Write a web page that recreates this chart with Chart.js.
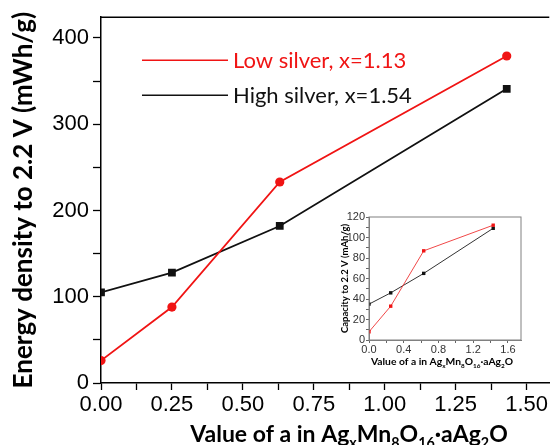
<!DOCTYPE html>
<html>
<head>
<meta charset="utf-8">
<script src="https://cdn.jsdelivr.net/npm/chart.js@4.4.1/dist/chart.umd.min.js"></script>
<style>
  html, body { margin: 0; padding: 0; background: #fff; }
  #wrap { position: relative; width: 550px; height: 445px; }
  #mainChart { position: absolute; left: 0; top: 0; }
  #insetChart { position: absolute; left: 330px; top: 205px; }
</style>
</head>
<body>
<div id="wrap">
  <canvas id="mainChart" width="550" height="445"></canvas>
  <canvas id="insetChart" width="200" height="166"></canvas>
</div>
<script>
// value of a (Ag2O per formula unit)
const aValues = [0, 0.25, 0.63, 1.43];
// main plot: energy density to 2.2 V (mWh/g)
const lowSilverEnergy = [26, 88, 233, 379];
const highSilverEnergy = [105, 128, 182, 341];
// inset: capacity to 2.2 V (mAh/g)
const lowSilverCapacity = [8, 33, 87, 112];
const highSilverCapacity = [35, 46, 65, 109];

const seriesNames = ['Low silver, x=1.13', 'High silver, x=1.54'];
const mainXTicks = [0, 0.25, 0.5, 0.75, 1, 1.25, 1.5];
const mainYTicks = [0, 100, 200, 300, 400];
const insetXTicks = [0, 0.4, 0.8, 1.2, 1.6];
const insetYTicks = [0, 20, 40, 60, 80, 100, 120];
// x title with subscripts: [text, isSubscript]
const xTitleParts = [['Value of a in Ag', 0], ['x', 1], ['Mn', 0], ['8', 1], ['O', 0], ['16', 1], ['·aAg', 0], ['2', 1], ['O', 0]];

const RED = '#f01414';
const BLACK = '#111111';
const SANS = '"Liberation Sans", Arial, sans-serif';
const TITLE = 'Lato, "Open Sans", sans-serif';

function points(ys) {
    return aValues.map((a, i) => ({ x: a, y: ys[i] }));
}

function isOn(list, v) {
    return list.some(t => Math.abs(t - v) < 1e-6);
}

// draws the x axis title with real subscripts
function drawSubTitle(ctx, cx, baseline, size) {
    const big = 'bold ' + size + 'px ' + TITLE;
    const small = 'bold ' + (size * 0.62).toFixed(1) + 'px ' + TITLE;
    let total = 0;
    xTitleParts.forEach(p => {
        ctx.font = p[1] ? small : big;
        total += ctx.measureText(p[0]).width;
    });
    let x = cx - total / 2;
    ctx.save();
    ctx.fillStyle = '#000';
    ctx.textBaseline = 'alphabetic';
    ctx.textAlign = 'left';
    xTitleParts.forEach(p => {
        ctx.font = p[1] ? small : big;
        ctx.fillText(p[0], x, baseline + (p[1] ? size * 0.25 : 0));
        x += ctx.measureText(p[0]).width;
    });
    ctx.restore();
}

const mainDecor = {
    id: 'mainDecor',
    afterDraw(chart) {
        const { ctx, chartArea } = chart;
        ctx.save();
        // top frame line
        ctx.strokeStyle = '#000';
        ctx.lineWidth = 1.5;
        ctx.beginPath();
        ctx.moveTo(chartArea.left, chartArea.top);
        ctx.lineTo(chartArea.right, chartArea.top);
        ctx.stroke();

        // legend (lines only, no markers)
        const rows = [[RED, chartArea.top + 43], [BLACK, chartArea.top + 78]];
        ctx.font = '22px ' + TITLE;
        ctx.textBaseline = 'middle';
        rows.forEach((r, i) => {
            ctx.strokeStyle = r[0];
            ctx.lineWidth = 1.5;
            ctx.beginPath();
            ctx.moveTo(chartArea.left + 41, r[1]);
            ctx.lineTo(chartArea.left + 127, r[1]);
            ctx.stroke();
            ctx.fillStyle = r[0];
            ctx.fillText(seriesNames[i], chartArea.left + 132, r[1] + 1);
        });
        ctx.restore();

        drawSubTitle(ctx, chartArea.left + 248, 442, 23);
    }
};

new Chart(document.getElementById('mainChart'), {
    type: 'line',
    data: {
        datasets: [{
            label: seriesNames[0],
            data: points(lowSilverEnergy),
            borderColor: RED,
            backgroundColor: RED,
            borderWidth: 1.8,
            pointStyle: 'circle',
            pointRadius: 4.6,
            pointBorderWidth: 0
        }, {
            label: seriesNames[1],
            data: points(highSilverEnergy),
            borderColor: BLACK,
            backgroundColor: BLACK,
            borderWidth: 1.8,
            pointStyle: 'rect',
            pointRadius: 5.5,
            pointBorderWidth: 0
        }]
    },
    options: {
        responsive: false,
        animation: false,
        layout: { autoPadding: false, padding: { top: 11, right: 0, bottom: 0, left: 0 } },
        plugins: { legend: { display: false }, tooltip: { enabled: false } },
        scales: {
            x: {
                type: 'linear',
                min: 0,
                max: 1.58,
                afterBuildTicks: s => { s.ticks = s.ticks.filter(t => t.value <= 1.5 + 1e-9); },
                afterFit: s => { s.height = 62; },
                ticks: {
                    stepSize: 0.125,
                    includeBounds: false,
                    autoSkip: false,
                    maxRotation: 0,
                    minRotation: 0,
                    padding: 2,
                    color: '#000',
                    font: { family: SANS, size: 22 },
                    callback: v => isOn(mainXTicks, v) ? v.toFixed(2) : ''
                },
                grid: { drawOnChartArea: false, tickLength: 7, color: '#000', tickWidth: 1.3 },
                border: { color: '#000', width: 1.5 }
            },
            y: {
                min: 0,
                max: 424,
                afterBuildTicks: s => { s.ticks = s.ticks.filter(t => t.value <= 400); },
                afterFit: s => { s.width = 101; },
                ticks: {
                    stepSize: 50,
                    includeBounds: false,
                    autoSkip: false,
                    padding: 4,
                    color: '#000',
                    font: { family: SANS, size: 22 },
                    callback: v => isOn(mainYTicks, v) ? String(v) : ''
                },
                grid: { drawOnChartArea: false, tickLength: 8, color: '#000', tickWidth: 1.3 },
                border: { color: '#000', width: 1.5 },
                title: {
                    display: true,
                    text: 'Energy density to 2.2 V (mWh/g)',
                    color: '#000',
                    font: { family: TITLE, size: 26, weight: 'bold' },
                    padding: 8
                }
            }
        }
    },
    plugins: [mainDecor]
});

const insetDecor = {
    id: 'insetDecor',
    afterDraw(chart) {
        const { ctx, chartArea } = chart;
        ctx.save();
        ctx.strokeStyle = '#808080';
        ctx.lineWidth = 1;
        ctx.strokeRect(chartArea.left, chartArea.top, chartArea.right - chartArea.left, chartArea.bottom - chartArea.top);
        ctx.restore();
        drawSubTitle(ctx, 112, 160, 10.3);
    }
};

new Chart(document.getElementById('insetChart'), {
    type: 'line',
    data: {
        datasets: [{
            label: seriesNames[0],
            data: points(lowSilverCapacity),
            borderColor: '#f04848',
            backgroundColor: RED,
            borderWidth: 1,
            pointStyle: 'rect',
            pointRadius: 2.4,
            pointBorderWidth: 0
        }, {
            label: seriesNames[1],
            data: points(highSilverCapacity),
            borderColor: '#333333',
            backgroundColor: BLACK,
            borderWidth: 1,
            pointStyle: 'rect',
            pointRadius: 2.4,
            pointBorderWidth: 0
        }]
    },
    options: {
        responsive: false,
        animation: false,
        layout: { autoPadding: false, padding: { top: 12, right: 9, bottom: 0, left: 0 } },
        plugins: { legend: { display: false }, tooltip: { enabled: false } },
        scales: {
            x: {
                type: 'linear',
                min: 0,
                max: 1.75,
                afterBuildTicks: s => { s.ticks = s.ticks.filter(t => t.value <= 1.6 + 1e-9); },
                afterFit: s => { s.height = 31; },
                ticks: {
                    stepSize: 0.2,
                    includeBounds: false,
                    autoSkip: false,
                    maxRotation: 0,
                    minRotation: 0,
                    padding: 0,
                    color: '#333',
                    font: { family: SANS, size: 11 },
                    callback: v => isOn(insetXTicks, v) ? v.toFixed(1) : ''
                },
                grid: { drawOnChartArea: false, tickLength: 3, color: '#666' },
                border: { color: '#808080', width: 1 }
            },
            y: {
                min: 0,
                max: 120,
                afterFit: s => { s.width = 39; },
                ticks: {
                    stepSize: 10,
                    includeBounds: false,
                    autoSkip: false,
                    padding: 1,
                    color: '#333',
                    font: { family: SANS, size: 11 },
                    callback: v => isOn(insetYTicks, v) ? String(v) : ''
                },
                grid: { drawOnChartArea: false, tickLength: 3, color: '#666' },
                border: { color: '#808080', width: 1 },
                title: {
                    display: true,
                    text: 'Capacity to 2.2 V (mAh/g)',
                    color: '#000',
                    font: { family: TITLE, size: 9.5, weight: 'bold' },
                    padding: 9
                }
            }
        }
    },
    plugins: [insetDecor]
});
</script>
</body>
</html>
